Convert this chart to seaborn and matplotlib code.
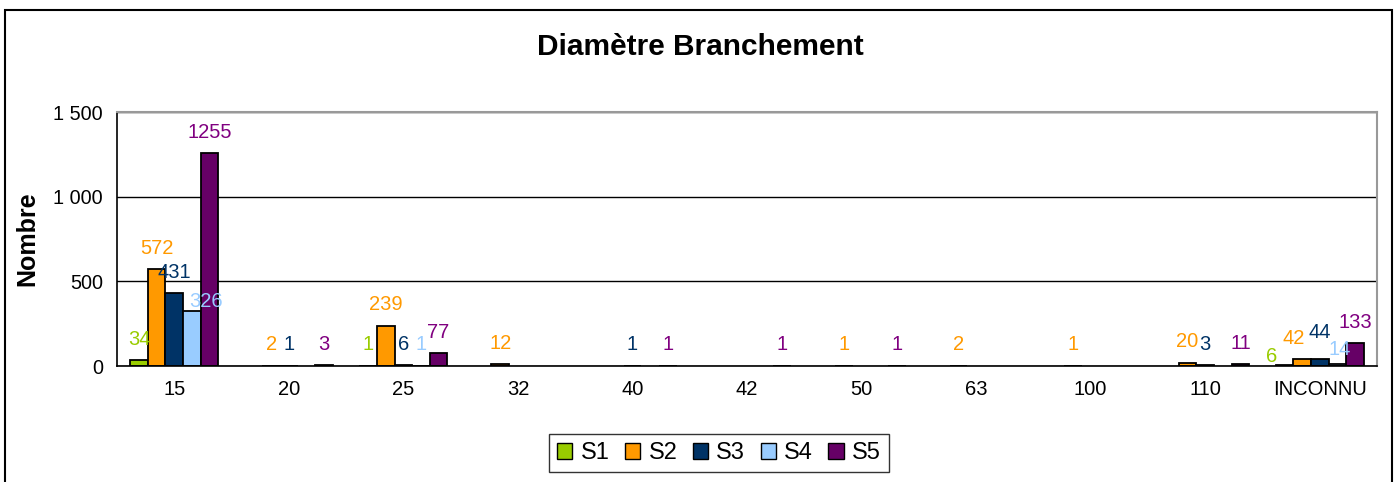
import matplotlib
matplotlib.use("Agg")
import matplotlib.pyplot as plt
import matplotlib.ticker as mticker
from matplotlib.patches import Rectangle, Patch
import seaborn as sns
import pandas as pd

categories = ["15", "20", "25", "32", "40", "42", "50", "63", "100", "110", "INCONNU"]
series = ["S1", "S2", "S3", "S4", "S5"]
s1 = [34, 0, 1, 0, 0, 0, 0, 0, 0, 0, 6]
s2 = [572, 2, 239, 12, 0, 0, 1, 2, 1, 20, 42]
s3 = [431, 1, 6, 0, 1, 0, 0, 0, 0, 3, 44]
s4 = [326, 0, 1, 0, 0, 0, 0, 0, 0, 0, 14]
s5 = [1255, 3, 77, 0, 1, 1, 1, 0, 0, 11, 133]

colors = ["#99CC00", "#FF9900", "#003366", "#99CCFF", "#660066"]
label_colors = ["#99CC00", "#FF9900", "#003366", "#99CCFF", "#800080"]

# label nudges (points) where the original chart moved labels to avoid overlap
nudges = {("S4", "15"): (10, -8), ("S1", "INCONNU"): (-9, -9),
          ("S2", "INCONNU"): (-6, 0), ("S3", "INCONNU"): (0, 4),
          ("S4", "INCONNU"): (2, -5)}

rows = []
for name, vals in zip(series, [s1, s2, s3, s4, s5]):
    for cat, v in zip(categories, vals):
        if v > 0:
            rows.append({"Diametre": cat, "Serie": name, "Nombre": v})
df = pd.DataFrame(rows)

sns.set_style("white")
plt.rcParams["font.family"] = ["Liberation Sans", "DejaVu Sans"]
plt.rcParams["text.color"] = "black"
plt.rcParams["axes.labelcolor"] = "black"
plt.rcParams["xtick.color"] = "black"
plt.rcParams["ytick.color"] = "black"

fig = plt.figure(figsize=(14, 4.82), dpi=100)
ax = fig.add_axes([117 / 1400, 1 - 366 / 482, (1377 - 117) / 1400, (366 - 112) / 482])

sns.barplot(data=df, x="Diametre", y="Nombre", hue="Serie",
            order=categories, hue_order=series, palette=colors, saturation=1,
            width=5 / 6.5, edgecolor="black", linewidth=1.3,
            errorbar=None, legend=False, ax=ax)

for cont, name, c in zip(ax.containers, series, label_colors):
    for bar in cont:
        h = bar.get_height()
        cx = bar.get_x() + bar.get_width() / 2
        cat = categories[int(round(cx))]
        dx, dy = nudges.get((name, cat), (0, 0))
        ax.annotate(f"{int(h)}", (cx, h), xytext=(dx, 15 + dy),
                    textcoords="offset points", ha="center", va="center",
                    color=c, fontsize=14.5)

ax.set_ylim(0, 1500)
ax.set_xlim(-0.5, len(categories) - 0.5)
ax.yaxis.set_major_locator(mticker.MultipleLocator(500))
ax.yaxis.set_major_formatter(mticker.FuncFormatter(
    lambda v, p: f"{int(v):,}".replace(",", " ")))
ax.yaxis.grid(True, color="black", linewidth=1)
ax.set_axisbelow(True)

ax.set_xticks(range(len(categories)))
ax.set_xticklabels(categories)
ax.xaxis.set_minor_locator(mticker.FixedLocator([i - 0.5 for i in range(len(categories) + 1)]))
ax.tick_params(axis="x", which="major", length=0, labelsize=14.5, pad=10)
ax.tick_params(axis="x", which="minor", length=6, direction="out", color="black", width=1)
ax.tick_params(axis="y", length=6, direction="out", labelsize=14.3, color="black", width=1, pad=4)

ax.set_xlabel("")
ax.set_ylabel("Nombre", fontsize=18, fontweight="bold", labelpad=10)

for side in ["top", "right"]:
    ax.spines[side].set_color("#999999")
    ax.spines[side].set_linewidth(1.5)
for side in ["left", "bottom"]:
    ax.spines[side].set_color("black")
    ax.spines[side].set_linewidth(1.2)

fig.text(0.5, 1 - 47 / 482, "Diamètre Branchement", ha="center", va="center",
         fontsize=21.5, fontweight="bold")

handles = [Patch(facecolor=c, edgecolor="black", label=s) for c, s in zip(colors, series)]
leg = fig.legend(handles=handles, loc="center", bbox_to_anchor=(719 / 1400, 1 - 453 / 482),
                 ncol=5, frameon=True, fontsize=17, handlelength=0.65, handleheight=0.65,
                 handletextpad=0.35, columnspacing=0.65, borderpad=0.35, fancybox=False)
leg.get_frame().set_edgecolor("black")
leg.get_frame().set_linewidth(1)

fig.patches.append(Rectangle((5 / 1400, -0.1), (1392 - 5) / 1400, 1.1 - 10 / 482,
                             transform=fig.transFigure, fill=False,
                             edgecolor="black", linewidth=1.5))

fig.savefig("out.png", dpi=100)
